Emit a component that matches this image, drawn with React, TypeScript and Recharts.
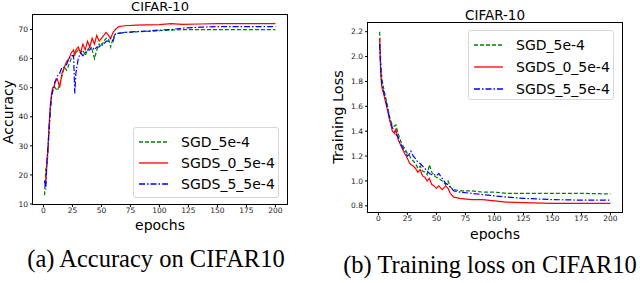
import React from 'react';
import { LineChart, Line, XAxis, YAxis } from 'recharts';

const accEpochs = [1, 2, 3, 4, 5, 6, 7, 8, 9, 10, 12, 14, 16, 18, 20, 22, 24, 26, 27, 28, 30, 32, 34, 36, 38, 40, 42, 44, 46, 48, 50, 52, 54, 56, 58, 60, 62, 65, 70, 80, 90, 100, 110, 120, 135, 150, 175, 200];
const accSgd = [13, 22, 23, 28, 36, 42, 47, 49, 50, 50, 49, 51, 54, 57, 56, 58, 60, 61, 62, 62, 63, 62, 63, 61, 63, 64, 63, 60, 63, 65, 64, 66, 67, 67, 64, 67, 68.5, 68.8, 69, 69.2, 69.4, 69.6, 69.8, 70, 70, 70, 70, 70];
const accSgds0 = [18, 17, 24, 30, 38, 44, 48, 50, 50, 52, 53, 50, 55, 57, 59, 60, 62, 63, 61, 63, 64, 62, 65, 63, 66, 64, 67, 65, 68, 66, 67, 68, 69, 68, 67, 69, 70, 71, 71.3, 71.5, 71.6, 71.7, 72, 71.8, 71.9, 72, 72, 72];
const accSgds5 = [18, 15, 25, 30, 37, 43, 47, 49, 50, 52, 54, 55, 57, 57, 58, 60, 61, 61, 48, 55, 60, 62, 61, 62, 63, 63, 64, 63, 64, 64, 65, 65, 66, 66, 67, 66, 68.5, 68.7, 69, 69.3, 69.5, 69.8, 70, 70.5, 70.8, 71, 71, 71];

const lossEpochs = [1, 2, 3, 5, 7, 10, 12, 14, 15, 17, 20, 22, 25, 27, 28, 30, 32, 34, 36, 38, 40, 42, 44, 46, 48, 50, 52, 55, 58, 60, 62, 65, 70, 80, 90, 100, 110, 125, 150, 175, 200];
const lossSgd = [2.2, 1.95, 1.82, 1.72, 1.64, 1.5, 1.45, 1.44, 1.45, 1.38, 1.3, 1.27, 1.22, 1.2, 1.18, 1.16, 1.14, 1.1, 1.12, 1.08, 1.07, 1.05, 1.13, 1.07, 1.04, 1.03, 1.02, 1.0, 0.97, 1.0, 0.95, 0.93, 0.92, 0.92, 0.91, 0.91, 0.9, 0.9, 0.9, 0.9, 0.895];
const lossSgds0 = [2.15, 1.85, 1.75, 1.68, 1.6, 1.48, 1.4, 1.38, 1.42, 1.33, 1.27, 1.23, 1.18, 1.14, 1.13, 1.12, 1.1, 1.07, 1.09, 1.04, 1.03, 1.0, 1.02, 0.97, 0.96, 0.94, 0.96, 0.93, 0.96, 0.94, 0.9, 0.87, 0.86, 0.85, 0.85, 0.84, 0.83, 0.825, 0.82, 0.82, 0.82];
const lossSgds5 = [2.1, 1.9, 1.78, 1.7, 1.62, 1.48, 1.43, 1.4, 1.38, 1.35, 1.28, 1.25, 1.2, 1.22, 1.24, 1.2, 1.18, 1.15, 1.14, 1.12, 1.1, 1.08, 1.06, 1.05, 1.05, 1.04, 1.06, 1.02, 0.98, 0.97, 0.95, 0.92, 0.91, 0.9, 0.89, 0.88, 0.87, 0.86, 0.85, 0.845, 0.845];

const epochTicks = [0, 25, 50, 75, 100, 125, 150, 175, 200];
const accTicks = [10, 20, 30, 40, 50, 60, 70];
const lossTicks = [0.8, 1.0, 1.2, 1.4, 1.6, 1.8, 2.0, 2.2];

const seriesNames = ['SGD_5e-4', 'SGDS_0_5e-4', 'SGDS_5_5e-4'];
const seriesColors = ['#008000', '#ff0000', '#0000ff'];
const seriesDash = ['4 2', undefined, '6 2 1.5 2'];

const sans = 'DejaVu Sans, sans-serif';
const serif = 'Liberation Serif, serif';
const tickStyle = { fontSize: 7.5, fill: '#222', fontFamily: sans };

function buildRows(epochs: number[], a: number[], b: number[], c: number[]) {
  return epochs.map((e, i) => ({ epoch: e, s0: a[i], s1: b[i], s2: c[i] }));
}

const accRows = buildRows(accEpochs, accSgd, accSgds0, accSgds5);
const lossRows = buildRows(lossEpochs, lossSgd, lossSgds0, lossSgds5);

interface PanelProps {
  data: any[];
  yDomain: [number, number];
  yTicks: number[];
  fmt?: (v: number) => string;
  margin: { top: number; right: number; bottom: number; left: number };
  width: number;
  height: number;
}

function Panel({ data, yDomain, yTicks, fmt, margin, width, height }: PanelProps) {
  return (
    <LineChart width={width} height={height} data={data} margin={margin}>
      <XAxis
        dataKey="epoch"
        type="number"
        domain={[-9, 210]}
        ticks={epochTicks}
        tick={tickStyle}
        tickSize={3}
        tickMargin={1}
        height={12}
        axisLine={false}
        tickLine={{ stroke: '#000' }}
      />
      <YAxis
        type="number"
        domain={yDomain}
        ticks={yTicks}
        tick={tickStyle}
        tickFormatter={fmt}
        tickSize={3}
        tickMargin={2}
        width={20}
        axisLine={false}
        tickLine={{ stroke: '#000' }}
        allowDataOverflow
      />
      {[0, 1, 2].map((i) => (
        <Line
          key={i}
          dataKey={'s' + i}
          stroke={seriesColors[i]}
          strokeDasharray={seriesDash[i]}
          strokeWidth={1.2}
          dot={false}
          type="linear"
          isAnimationActive={false}
        />
      ))}
    </LineChart>
  );
}

function LegendBox({ left, top, width, height, rowGap }: { left: number; top: number; width: number; height: number; rowGap: number }) {
  return (
    <div
      style={{
        position: 'absolute',
        left,
        top,
        width,
        height,
        border: '1px solid #d6d6d6',
        borderRadius: 3,
        background: 'rgba(255,255,255,0.85)',
        boxSizing: 'border-box',
      }}
    >
      {seriesNames.map((n, i) => (
        <div key={n} style={{ position: 'absolute', left: 5, top: 5 + i * rowGap, height: 18, display: 'flex', alignItems: 'center' }}>
          <svg width={30} height={10}>
            <line x1={0} y1={5} x2={29} y2={5} stroke={seriesColors[i]} strokeWidth={1.3} strokeDasharray={seriesDash[i]} />
          </svg>
          <span style={{ marginLeft: 12, fontFamily: sans, fontSize: 14, color: '#000', whiteSpace: 'nowrap' }}>{n}</span>
        </div>
      ))}
    </div>
  );
}

const abs = (left: number, top: number): React.CSSProperties => ({ position: 'absolute', left, top });

const frame = (left: number, top: number, width: number, height: number): React.CSSProperties => ({
  position: 'absolute',
  left,
  top,
  width,
  height,
  border: '1px solid #000',
  boxSizing: 'border-box',
  pointerEvents: 'none',
});

export default function App() {
  return (
    <div style={{ position: 'fixed', left: 0, top: 0, width: 640, height: 283, background: '#fff', overflow: 'hidden' }}>
      <div style={abs(0, 0)}>
        <Panel data={accRows} yDomain={[10, 75]} yTicks={accTicks} width={320} height={216} margin={{ top: 15, right: 33, bottom: 0, left: 13 }} />
      </div>
      <div style={abs(320, 0)}>
        <Panel
          data={lossRows}
          yDomain={[0.75, 2.27]}
          yTicks={lossTicks}
          fmt={(v: number) => v.toFixed(1)}
          width={320}
          height={224}
          margin={{ top: 23, right: 18, bottom: 0, left: 28 }}
        />
      </div>
      <div style={frame(32, 14, 256, 191)} />
      <div style={frame(367, 22, 256, 191)} />

      <div style={{ ...abs(110, -1), width: 100, textAlign: 'center', fontFamily: sans, fontSize: 13 }}>CIFAR-10</div>
      <div style={{ ...abs(445, 7), width: 100, textAlign: 'center', fontFamily: sans, fontSize: 13.5 }}>CIFAR-10</div>

      <div style={{ ...abs(-42, 104), width: 100, textAlign: 'center', fontFamily: sans, fontSize: 14, transform: 'rotate(-90deg)' }}>Accuracy</div>
      <div style={{ ...abs(288, 109), width: 100, textAlign: 'center', fontFamily: sans, fontSize: 14.5, transform: 'rotate(-90deg)' }}>Training Loss</div>

      <div style={{ ...abs(110, 217), width: 100, height: 18, overflow: 'hidden', textAlign: 'center', fontFamily: sans, fontSize: 14 }}>epochs</div>
      <div style={{ ...abs(445, 226), width: 100, height: 15, overflow: 'hidden', textAlign: 'center', fontFamily: sans, fontSize: 14 }}>epochs</div>

      <LegendBox left={133} top={127} width={146} height={71} rowGap={21} />
      <LegendBox left={468} top={30} width={146} height={70} rowGap={22} />

      <div style={{ ...abs(6, 245), width: 300, textAlign: 'center', fontFamily: serif, fontSize: 24.5, whiteSpace: 'nowrap' }}>(a) Accuracy on CIFAR10</div>
      <div style={{ ...abs(320, 251), width: 340, textAlign: 'center', fontFamily: serif, fontSize: 24.5, whiteSpace: 'nowrap' }}>(b) Training loss on CIFAR10</div>
    </div>
  );
}
